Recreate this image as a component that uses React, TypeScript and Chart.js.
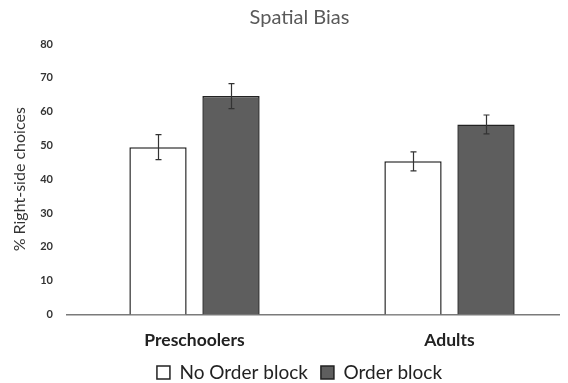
import React, { useEffect, useRef } from "react";
import { Chart, registerables } from "chart.js";

Chart.register(...registerables);

const categories = ["Preschoolers", "Adults"];
const seriesNames = ["No Order block", "Order block"];
const noOrderValues = [49.5, 45.3];
const orderValues = [64.6, 56.2];
const noOrderErrors = [3.7, 2.8];
const orderErrors = [3.7, 2.8];
const yMin = 0;
const yMax = 80;
const yStep = 10;

const FONT = "Lato, 'Open Sans', sans-serif";

const errorBarPlugin = {
  id: "errorBars",
  afterDatasetsDraw(chart: any) {
    const ctx = chart.ctx;
    const yScale = chart.scales.y;
    chart.data.datasets.forEach((ds: any, i: number) => {
      const meta = chart.getDatasetMeta(i);
      const errs: number[] = ds.errorValues || [];
      meta.data.forEach((bar: any, j: number) => {
        const v = ds.data[j];
        const e = errs[j];
        if (e == null) return;
        const top = yScale.getPixelForValue(v + e);
        const bot = yScale.getPixelForValue(v - e);
        const x = Math.round(bar.x) + 0.5;
        ctx.save();
        ctx.strokeStyle = "#333333";
        ctx.lineWidth = 1.2;
        ctx.beginPath();
        ctx.moveTo(x, top);
        ctx.lineTo(x, bot);
        ctx.moveTo(x - 3, top);
        ctx.lineTo(x + 3, top);
        ctx.moveTo(x - 3, bot);
        ctx.lineTo(x + 3, bot);
        ctx.stroke();
        ctx.restore();
      });
    });
  },
};

export default function App() {
  const canvasRef = useRef<HTMLCanvasElement | null>(null);

  useEffect(() => {
    document.documentElement.style.overflow = "hidden";
    document.body.style.overflow = "hidden";
    if (!canvasRef.current) return;
    const chart = new Chart(canvasRef.current, {
      type: "bar",
      data: {
        labels: categories,
        datasets: [
          {
            label: seriesNames[0],
            data: noOrderValues,
            errorValues: noOrderErrors,
            backgroundColor: "#ffffff",
            borderColor: "#222222",
            borderWidth: 1.5,
            categoryPercentage: 0.5725,
            barPercentage: 0.785,
          } as any,
          {
            label: seriesNames[1],
            data: orderValues,
            errorValues: orderErrors,
            backgroundColor: "#5e5e5e",
            borderColor: "#222222",
            borderWidth: 1.5,
            categoryPercentage: 0.5725,
            barPercentage: 0.785,
          } as any,
        ],
      },
      options: {
        animation: false,
        responsive: true,
        maintainAspectRatio: false,
        layout: { padding: { left: 14, right: 51, top: 0, bottom: 0 } },
        plugins: {
          title: {
            display: true,
            text: "Spatial Bias",
            color: "#595959",
            font: { family: FONT, size: 20, weight: "normal" },
            padding: { top: -2, bottom: 14 },
          },
          legend: {
            display: true,
            position: "bottom",
            labels: {
              color: "#222222",
              font: { family: FONT, size: 19 },
              boxWidth: 13,
              boxHeight: 13,
              padding: 13,
            },
          },
          tooltip: { enabled: false },
        },
        scales: {
          x: {
            afterFit: (scale: any) => {
              scale.height = 35.5;
            },
            grid: { display: false, drawTicks: false },
            border: { display: true, color: "#7a7a7a", width: 1.5 },
            ticks: {
              color: "#222222",
              font: { family: FONT, size: 17.5, weight: "bold" },
              padding: 15,
            },
          },
          y: {
            min: yMin,
            max: yMax,
            afterFit: (scale: any) => {
              scale.width = 45;
            },
            grid: { display: false, drawTicks: false },
            border: { display: false },
            ticks: {
              stepSize: yStep,
              color: "#333333",
              font: { family: FONT, size: 11, weight: "bold" },
              padding: 14,
            },
            title: {
              display: true,
              text: "% Right-side choices",
              color: "#333333",
              font: { family: FONT, size: 16 },
              padding: { top: -11.5, bottom: 0 },
            },
          },
        },
      },
      plugins: [errorBarPlugin],
    });
    return () => chart.destroy();
  }, []);

  return (
    <div style={{ width: 560, height: 375, overflow: "hidden" }}>
      <div style={{ width: 620, height: 384, position: "relative" }}>
        <canvas ref={canvasRef} />
      </div>
    </div>
  );
}
